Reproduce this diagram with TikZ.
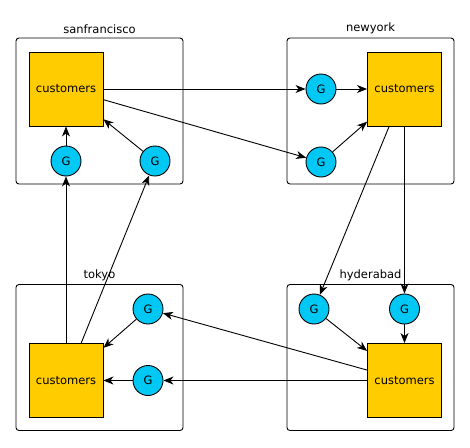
\documentclass[tikz,border=0pt]{standalone}
\usepackage{fontspec}
\setmainfont{DejaVu Sans}
\usepackage{xcolor}
\usetikzlibrary{arrows.meta, positioning}

\definecolor{custgold}{RGB}{255,204,0}
\definecolor{gcyan}{RGB}{0,200,245}

\begin{document}
\begin{tikzpicture}[x=1pt, y=-1pt, font=\fontsize{11.5}{13}\selectfont,
        region/.style={rectangle, draw, rounded corners=3pt, line width=0.9pt, minimum width=167pt, minimum height=146pt, inner sep=0pt, label distance=4pt},
        store/.style={rectangle, draw, fill=custgold, line width=0.9pt, minimum size=74pt, inner sep=0pt},
        gate/.style={circle, draw, fill=gcyan, line width=0.9pt, minimum size=30pt, inner sep=0pt},
        line/.style={draw, line width=0.9pt, -{Stealth[length=10pt, width=8pt, inset=3pt]}}]

        \useasboundingbox (0,0) rectangle (470,447);

        % Regions
        \node [region, label=above:sanfrancisco] (sfbox) at (99.5,111) {};
        \node [region, label=above:newyork] (nybox) at (370.5,111) {};
        \node [region, label=above:tokyo] (tkbox) at (99.5,357.5) {};
        \node [region, label=above:hyderabad] (hybox) at (370.5,357.5) {};

        % Nodes
        \node [store] (sfcust) at (66,89) {customers};
        \node [gate] (sfg1) at (66,161) {G};
        \node [gate] (sfg2) at (155,161) {G};

        \node [store] (nycust) at (404.5,89) {customers};
        \node [gate] (nyg1) at (321,89) {G};
        \node [gate] (nyg2) at (321,162) {G};

        \node [store] (tkcust) at (66,380.5) {customers};
        \node [gate] (tkg1) at (148,309) {G};
        \node [gate] (tkg2) at (148,380.5) {G};

        \node [store] (hycust) at (404.5,380.5) {customers};
        \node [gate] (hyg1) at (314,309) {G};
        \node [gate] (hyg2) at (404.5,309) {G};

        % Edges
        \path [line] (sfcust) -- (nyg1);
        \path [line] (sfcust) -- (nyg2);
        \path [line] (nyg1) -- (nycust);
        \path [line] (nyg2) -- (nycust);
        \path [line] (nycust) -- (hyg1);
        \path [line] (nycust) -- (hyg2);
        \path [line] (hyg1) -- (hycust);
        \path [line] (hyg2) -- (hycust);
        \path [line] (hycust) -- (tkg1);
        \path [line] (hycust) -- (tkg2);
        \path [line] (tkg1) -- (tkcust);
        \path [line] (tkg2) -- (tkcust);
        \path [line] (tkcust) -- (sfg1);
        \path [line] (tkcust) -- (sfg2);
        \path [line] (sfg1) -- (sfcust);
        \path [line] (sfg2) -- (sfcust);

    \end{tikzpicture}
\end{document}
